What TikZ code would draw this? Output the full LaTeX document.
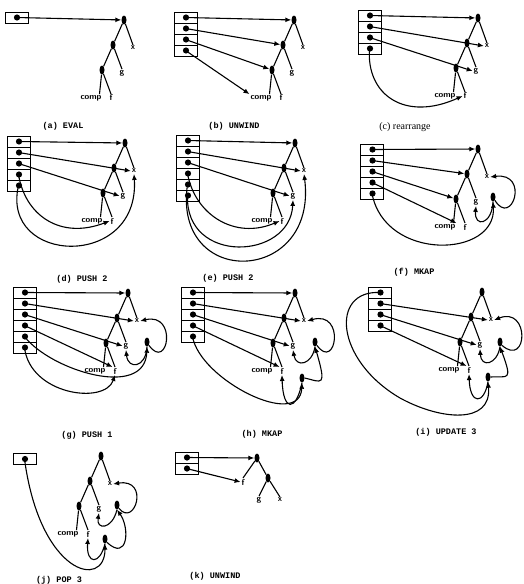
\documentclass[tikz,border=0pt]{standalone}
\usepackage{fontspec}
\usepackage{tikz}
\usetikzlibrary{arrows.meta,shapes.geometric}
\newfontfamily\capfont{Liberation Mono}
\newfontfamily\romcap{Liberation Serif}
\tikzset{
  app/.style={ellipse, fill=black, minimum width=5pt, minimum height=9pt, inner sep=0pt},
  leaf/.style={font=\sffamily\bfseries\fontsize{8.5}{8.5}\selectfont, inner sep=0.8pt},
  cell/.style={draw, line width=1pt, minimum width=23pt, minimum height=11pt, inner sep=0pt,
    path picture={\fill ([xshift=0.5pt]path picture bounding box.center) circle (3.1pt);}},
  arm/.style={line width=1.1pt},
  ptr/.style={line width=1.1pt, -{Latex[length=6pt,width=5pt]}},
  tag/.style={font=\capfont\bfseries\fontsize{8.5}{10}\selectfont}
}
% comp f g x tree, root at (#2,#3)
\newcommand{\gtree}[3]{%
  \begin{scope}[shift={(#2,#3)}]
    \node[app] (#1r) at (0,0) {};
    \node[app] (#1a) at (-11,25) {};
    \node[leaf] (#1x) at (9,28) {x};
    \node[app] (#1b) at (-22,50) {};
    \node[leaf] (#1g) at (-2,53) {g};
    \node[leaf] (#1c) at (-33,78) {comp};
    \node[leaf] (#1f) at (-13,78) {f};
  \end{scope}
  \draw[arm] (#1r) -- (#1a) (#1r) -- (#1x.north) (#1a) -- (#1b) (#1a) -- (#1g.north)
    (#1b) -- ([xshift=-3pt]#1c.north east) (#1b) -- (#1f.north);}

\begin{document}
\begin{tikzpicture}[x=1pt,y=-1pt]
\useasboundingbox (0,0) rectangle (523,584);
% (a)
\node[cell] (a1) at (16.5,17.5) {};
\gtree{a}{124}{20}
\draw[ptr] (a1.center) -- (ar);
\node[tag] (capa) at (63,126) {(a) EVAL};
% (b)
\foreach \i in {1,...,4} \node[cell] (b\i) at (185.5,6.5+11*\i) {};
\gtree{b}{294}{20}
\draw[ptr] (b1.center) -- (br);
\draw[ptr] (b2.center) -- (ba);
\draw[ptr] (b3.center) -- (bb);
\draw[ptr] (b4.center) -- (bc.north west);
\node[tag] (capb) at (234,126) {(b) UNWIND};
% (c)
\foreach \i in {1,...,4} \node[cell] (c\i) at (369.5,4.5+11*\i) {};
\gtree{c}{478}{18}
\draw[ptr] (c1.center) -- (cr);
\draw[ptr] (c2.center) -- (cx.west);
\draw[ptr] (c3.center) -- (cg.west);
\draw[ptr] (c4.center) .. controls (366,95) and (405,122) .. (cf.west);
\node[font=\romcap\fontsize{10}{11}\selectfont] (capc) at (405,127) {(c) rearrange};
% (d)
\foreach \i in {1,...,5} \node[cell] (d\i) at (18.5,130.5+11*\i) {};
\gtree{d}{125}{143}
\draw[ptr] (d1.center) -- (dr);
\draw[ptr] (d2.center) -- (dx.west);
\draw[ptr] (d3.center) -- (dg.west);
\draw[ptr] (d4.center) .. controls (25,215) and (60,240) .. (df.west);
\draw[ptr] (d5.center) .. controls (0,265) and (140,270) .. (dx.south);
\node[tag] (capd) at (82,279) {(d) PUSH 2};
% (e)
\foreach \i in {1,...,6} \node[cell] (e\i) at (187.5,129.5+11*\i) {};
\gtree{e}{295}{143}
\draw[ptr] (e1.center) -- (er);
\draw[ptr] (e2.center) -- (ex.west);
\draw[ptr] (e3.center) -- (eg.west);
\draw[ptr] (e4.center) .. controls (195,215) and (235,240) .. (ef.west);
\draw[ptr] (e5.center) .. controls (172,290) and (318,285) .. (ex.south);
\draw[ptr] (e6.center) .. controls (185,265) and (290,260) .. (eg.south);
\node[tag] (cape) at (228,278) {(e) PUSH 2};
% (f)
\foreach \i in {1,...,5} \node[cell] (f\i) at (372,138.5+11*\i) {};
\gtree{f}{478}{149}
\node[app] (fp) at (493,197) {};
\draw[ptr] (f1.center) -- (fr);
\draw[ptr] (f2.center) -- (fa);
\draw[ptr] (f3.center) -- (fb);
\draw[ptr] (f4.center) -- (fc.north east);
\draw[ptr] (f5.center) .. controls (385,262) and (497,258) .. (fp.south);
\draw[ptr] (fp.south) .. controls (492,225) and (474,228) .. (fg.south);
\draw[ptr] (fp.south east) .. controls (512,228) and (530,172) .. (fx.east);
\node[tag] (capf) at (414,272) {(f) MKAP};
% (g)
\foreach \i in {1,...,6} \node[cell] (g\i) at (24.5,281.5+11*\i) {};
\gtree{g}{128}{293}
\node[app] (gp) at (147,342) {};
\draw[ptr] (g1.center) -- (gr);
\draw[ptr] (g2.center) -- (gx.west);
\draw[ptr] (g3.center) -- (gg.west);
\draw[ptr] (g4.center) -- (gf.north west);
\draw[ptr] (g5.center) .. controls (50,370) and (145,400) .. (gp.south);
\draw[ptr] (g6.center) .. controls (30,395) and (105,405) .. (gf.south);
\draw[ptr] (gp.south) .. controls (146,368) and (128,370) .. (gg.south);
\draw[ptr] (gp.south east) .. controls (168,372) and (178,312) .. (gx.east);
\node[tag] (capg) at (87,435) {(g) PUSH 1};
% (h)
\foreach \i in {1,...,5} \node[cell] (h\i) at (192.5,281.5+11*\i) {};
\gtree{h}{295}{293}
\node[app] (hp) at (315,342) {};
\node[app] (hq) at (302,378) {};
\draw[ptr] (h1.center) -- (hr);
\draw[ptr] (h2.center) -- (hx.west);
\draw[ptr] (h3.center) -- (hg.west);
\draw[ptr] (h4.center) -- (hf.north west);
\draw[ptr] (h5.center) .. controls (200,380) and (300,430) .. (hq.south);
\draw[ptr] (hp.south) .. controls (312,365) and (296,368) .. (hg.south);
\draw[ptr] (hp.south east) .. controls (336,372) and (346,310) .. (hx.east);
\draw[ptr] (hq.south) .. controls (296,412) and (283,412) .. (hf.south);
\draw[ptr] (hq.east) .. controls (322,382) and (327,388) .. (hp.south);
\node[tag] (caph) at (262,434) {(h) MKAP};
% (i)
\foreach \i in {1,...,4} \node[cell] (i\i) at (380,281.5+11*\i) {};
\gtree{i}{482}{292}
\node[app] (ip) at (500,342) {};
\node[app] (iq) at (488,377) {};
\draw[ptr] (i1.center) .. controls (330,290) and (335,360) .. (400,398)
  .. controls (440,420) and (492,425) .. (iq.south);
\draw[ptr] (i2.center) -- (ix.west);
\draw[ptr] (i3.center) -- (ig.west);
\draw[ptr] (i4.center) -- (if.north west);
\draw[ptr] (ip.south) .. controls (497,365) and (481,368) .. (ig.south);
\draw[ptr] (ip.south east) .. controls (528,368) and (530,306) .. (ix.east);
\draw[ptr] (iq.south) .. controls (484,405) and (470,405) .. (if.south);
\draw[ptr] (iq.east) .. controls (508,376) and (513,382) .. (ip.south);
\node[tag] (capi) at (446,432) {(i) UPDATE 3};
% (j)
\node[cell] (j1) at (24.5,459) {};
\gtree{j}{101}{456}
\node[app] (jp) at (117,505) {};
\node[app] (jq) at (105,539) {};
\draw[ptr] (j1.center) .. controls (40,575) and (105,590) .. (jq.south);
\draw[ptr] (jp.south) .. controls (112,530) and (96,530) .. (jg.south);
\draw[ptr] (jp.south east) .. controls (135,528) and (150,478) .. (jx.east);
\draw[ptr] (jq.south) .. controls (100,565) and (86,565) .. (jf.south);
\draw[ptr] (jq.south east) .. controls (128,562) and (130,528) .. (jp.south);
\node[tag] (capj) at (59,580) {(j) POP 3};
% (k)
\foreach \i in {1,2} \node[cell] (k\i) at (186.5,446.5+11*\i) {};
\node[app] (kr) at (257,458) {};
\node[leaf] (kf) at (243,482) {f};
\node[app] (kp) at (268,478) {};
\node[leaf] (kg) at (259,500) {g};
\node[leaf] (kx) at (280,500) {x};
\draw[arm] (kr) -- (kf.north) (kr) -- (kp) (kp) -- (kg.north) (kp) -- (kx.north);
\draw[ptr] (k1.center) -- (kr);
\draw[ptr] (k2.center) -- (kf.west);
\node[tag] (capk) at (215,576) {(k) UNWIND};
\end{tikzpicture}
\end{document}
